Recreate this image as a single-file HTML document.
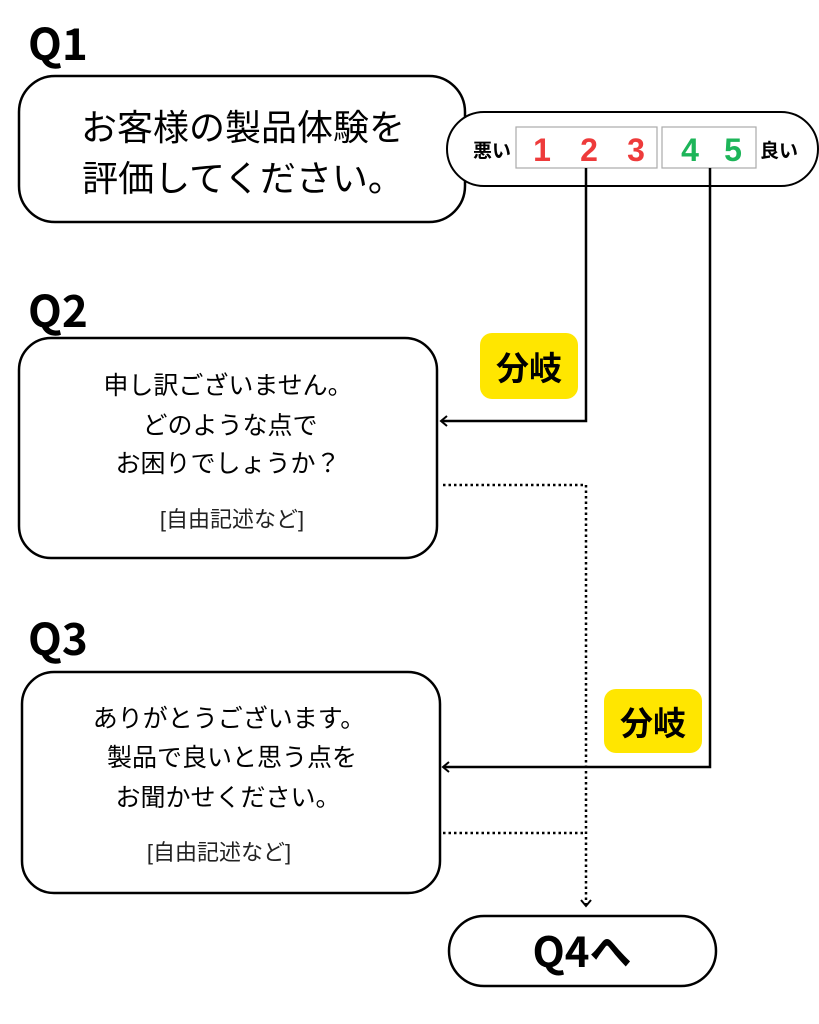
<!DOCTYPE html>
<html><head><meta charset="utf-8"><style>
html,body{margin:0;padding:0;background:#fff;}
svg{display:block;}
text{font-family:"Liberation Sans","Noto Sans CJK JP",sans-serif;}
.t{font-family:"Noto Sans CJK JP",sans-serif;}
</style></head><body>
<svg width="819" height="1024" viewBox="0 0 819 1024" xmlns="http://www.w3.org/2000/svg">
<defs>
<marker id="ar" markerWidth="12" markerHeight="12" refX="8" refY="6" orient="auto" markerUnits="userSpaceOnUse">
<path d="M2,1 L8,6 L2,11" fill="none" stroke="#000" stroke-width="2"/>
</marker>
</defs>
<text x="28" y="60" font-size="44" font-weight="bold" class="t">Q1</text>
<text x="28" y="327" font-size="44" font-weight="bold" class="t">Q2</text>
<text x="28" y="655" font-size="44" font-weight="bold" class="t">Q3</text>

<rect x="19" y="76" width="446" height="146" rx="36" fill="#fff" stroke="#000" stroke-width="2.5"/>
<text x="243" y="140" font-size="36" text-anchor="middle" class="t">お客様の製品体験を</text>
<text x="243" y="191" font-size="36" text-anchor="middle" class="t">評価してください。</text>

<rect x="447" y="112" width="371" height="74" rx="37" fill="#fff" stroke="#000" stroke-width="2"/>
<rect x="516" y="127" width="141" height="41" fill="#fff" stroke="#aaa" stroke-width="1.2"/>
<rect x="662" y="127" width="94" height="41" fill="#fff" stroke="#aaa" stroke-width="1.2"/>
<text x="492" y="157" font-size="19" font-weight="bold" text-anchor="middle" class="t">悪い</text>
<text x="779" y="157" font-size="19" font-weight="bold" text-anchor="middle" class="t">良い</text>
<g font-size="32" font-weight="bold" text-anchor="middle" class="t">
<text x="542" y="161" fill="#ee3b3b">1</text>
<text x="589" y="161" fill="#ee3b3b">2</text>
<text x="636" y="161" fill="#ee3b3b">3</text>
<text x="690" y="161" fill="#1db559">4</text>
<text x="733" y="161" fill="#1db559">5</text>
</g>

<polyline points="586,168 586,421 441,421" fill="none" stroke="#000" stroke-width="2.5" marker-end="url(#ar)"/>
<polyline points="710,168 710,767 443,767" fill="none" stroke="#000" stroke-width="2.5" marker-end="url(#ar)"/>
<polyline points="443,485 586,485 586,906" fill="none" stroke="#000" stroke-width="2.5" stroke-dasharray="2.5,3" marker-end="url(#ar)"/>
<line x1="443" y1="833" x2="586" y2="833" stroke="#000" stroke-width="2.5" stroke-dasharray="2.5,3"/>

<rect x="19" y="338" width="418" height="220" rx="32" fill="#fff" stroke="#000" stroke-width="2.5"/>
<g font-size="25" text-anchor="middle" class="t">
<text x="228" y="394">申し訳ございません。</text>
<text x="230" y="434">どのような点で</text>
<text x="228" y="472">お困りでしょうか？</text>
<text x="232" y="527" font-size="22" fill="#222">[自由記述など]</text>
</g>

<rect x="22" y="672" width="418" height="221" rx="32" fill="#fff" stroke="#000" stroke-width="2.5"/>
<g font-size="25" text-anchor="middle" class="t">
<text x="229" y="727">ありがとうございます。</text>
<text x="232" y="766">製品で良いと思う点を</text>
<text x="228" y="806">お聞かせください。</text>
<text x="219" y="860" font-size="22" fill="#222">[自由記述など]</text>
</g>

<rect x="480" y="333" width="98" height="66" rx="12" fill="#ffe600"/>
<text x="529" y="380" font-size="33" font-weight="bold" text-anchor="middle" class="t">分岐</text>
<rect x="604" y="689" width="98" height="64" rx="12" fill="#ffe600"/>
<text x="653" y="735" font-size="33" font-weight="bold" text-anchor="middle" class="t">分岐</text>

<rect x="449" y="916" width="267" height="70" rx="35" fill="#fff" stroke="#000" stroke-width="2.5"/>
<text x="582" y="967" font-size="42" font-weight="bold" text-anchor="middle" class="t">Q4へ</text>
</svg>
</body></html>
